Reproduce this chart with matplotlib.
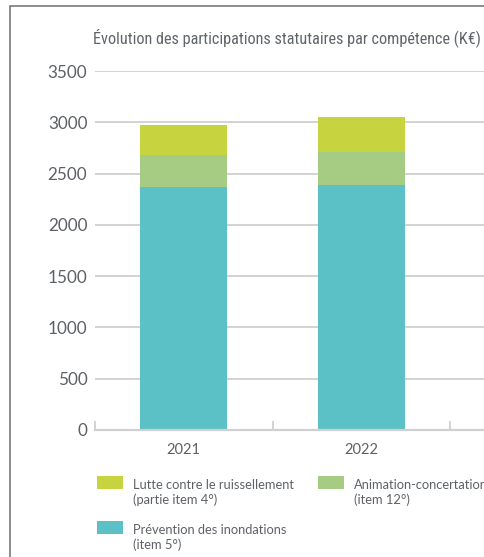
import matplotlib
matplotlib.use("Agg")
import matplotlib.pyplot as plt
from matplotlib.patches import Rectangle
from matplotlib import font_manager as fm
import numpy as np

years = ["2021", "2022"]
prevention = [2370, 2390]
animation = [310, 320]
lutte = [290, 340]
yticks = [0, 500, 1000, 1500, 2000, 2500, 3000, 3500]

title = "Évolution des participations statutaires par compétence (K€)"
lab_lutte = ["Lutte contre le ruissellement", "(partie item 4°)"]
lab_anim = ["Animation-concertation", "(item 12°)"]
lab_prev = ["Prévention des inondations", "(item 5°)"]

c_lutte = "#c8d43f"
c_anim = "#a6cb82"
c_prev = "#5bc1c6"
txt = "#5d6167"

W, H = 485, 557
fig = plt.figure(figsize=(W / 100, H / 100), dpi=100)
fig.patch.set_facecolor("white")

def fx(px):
    return px / W

def fy(py):
    return 1 - py / H

# pick the narrowest installed family for the condensed title
names = {f.name for f in fm.fontManager.ttflist}
title_fams = [n for n in ["Roboto Condensed", "Liberation Sans Narrow", "Open Sans Condensed",
                          "Noto Sans Condensed", "DejaVu Sans Condensed"] if n in names]
title_fams += ["DejaVu Sans"]

# outer frame (cropped on right/bottom)
fig.add_artist(Rectangle((fx(10), -0.1), 2.0, fy(6) + 0.1, transform=fig.transFigure,
                         fill=False, edgecolor="#7a7a7a", lw=1.2))

ax_l, ax_r, ax_t, ax_b = 95, 95 + 3 * 177.5, 71, 430
ax = fig.add_axes([fx(ax_l), fy(ax_b), (ax_r - ax_l) / W, (ax_b - ax_t) / H])
ax.set_facecolor("none")

x = np.arange(len(years))
bw = 0.49
ax.bar(x, prevention, bw, color=c_prev, zorder=3)
ax.bar(x, animation, bw, bottom=prevention, color=c_anim, zorder=3)
bot2 = [p + a for p, a in zip(prevention, animation)]
ax.bar(x, lutte, bw, bottom=bot2, color=c_lutte, zorder=3)

ax.set_xlim(-0.5, 2.5)
ax.set_ylim(0, 3500)
ax.set_yticks(yticks)
ax.set_yticklabels([str(v) for v in yticks], fontsize=12.3, color=txt, family="Lato")
ax.tick_params(axis="y", length=0, pad=5.5)
ax.grid(axis="y", color="#c6c6c6", lw=1.1, zorder=0)
ax.set_xticks(x)
ax.set_xticklabels(years, fontsize=10.5, color=txt, family="Lato")
ax.tick_params(axis="x", which="major", length=0, pad=9)
ax.set_xticks(np.arange(-0.5, 3.0, 1.0), minor=True)
ax.tick_params(axis="x", which="minor", direction="in", length=6.5, width=1.1, color="#c6c6c6")
for s in ["top", "right", "left"]:
    ax.spines[s].set_visible(False)
ax.spines["bottom"].set_color("#d0d0d0")
ax.spines["bottom"].set_linewidth(1.6)
ax.spines["bottom"].set_zorder(4)

t = fig.text(fx(93), fy(38), title, ha="left", va="center", fontsize=14,
             color="#60656b", family=title_fams, fontstretch="condensed")
# shrink title to fit the width it occupies in the reference
fig.canvas.draw()
r = fig.canvas.get_renderer()
w = t.get_window_extent(r).width
if w > 391:
    t.set_fontsize(14 * 391 / w)

# legend (Highcharts style: square aligned with first text line)
legend_items = [
    (lab_lutte, c_lutte, 97, 476),
    (lab_anim, c_anim, 318, 476),
    (lab_prev, c_prev, 97, 521),
]
for lines, col, lx, ly in legend_items:
    fig.add_artist(Rectangle((fx(lx), fy(ly + 13)), 26 / W, 13 / H,
                             transform=fig.transFigure, color=col, lw=0))
    for i, line in enumerate(lines):
        fig.text(fx(lx + 36), fy(ly + 9 + 15 * i), line, ha="left", va="center",
                 fontsize=9.3, color=txt, family="Lato")

fig.savefig("out.png", dpi=100)
